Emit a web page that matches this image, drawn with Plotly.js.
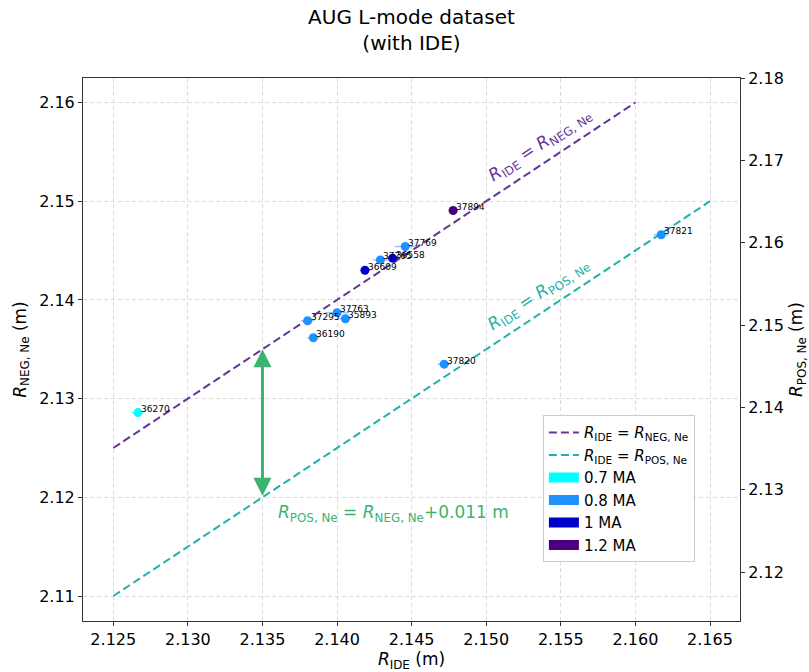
<!DOCTYPE html>
<html>
<head>
<meta charset="utf-8">
<script src="https://cdn.plot.ly/plotly-3.0.1.min.js"></script>
<style>html,body{margin:0;padding:0;background:#fff;}#chart{width:809px;height:672px;}</style>
</head>
<body>
<div id="chart"></div>
<script>
// ---- data ----
const shots   = ["36270","37295","36190","37763","35893","36609","37765","36558","37769","37894","37820","37821"];
const rIde    = [2.12665,2.13803,2.13841,2.14000,2.14056,2.14187,2.14290,2.14372,2.14457,2.14778,2.14718,2.16173];
const rNeg    = [2.12858,2.13789,2.13616,2.13870,2.13809,2.14300,2.14405,2.14423,2.14541,2.14906,2.13349,2.14660];
const rIdeErr = [0.00045,0.00045,0.00040,0.00080,0.00040,0.00030,0.00050,0.00040,0.00070,0.00030,0.00045,0.00050];
const current = ["0.7 MA","0.8 MA","0.8 MA","0.8 MA","0.8 MA","1 MA","0.8 MA","1 MA","0.8 MA","1.2 MA","0.8 MA","0.8 MA"];

const currentLevels = ["0.7 MA","0.8 MA","1 MA","1.2 MA"];
const currentColors = ["#00FFFF","#1E90FF","#0000CD","#4B0082"];
const currentErrColors = ["rgba(0,255,255,0.5)","rgba(30,144,255,0.5)","rgba(0,0,205,0.5)","rgba(75,0,130,0.5)"];

const negLineX = [2.125, 2.160];
const negLineY = [2.125, 2.160];
const posLineX = [2.125, 2.165];
const posLineY = [2.110, 2.150];

const gapX = 2.135;
const gapTop = 2.135;
const gapBottom = 2.120;

const FONT = "DejaVu Sans";
const negLabel = "<i>R</i><sub>IDE</sub> = <i>R</i><sub>NEG, Ne</sub>";
const posLabel = "<i>R</i><sub>IDE</sub> = <i>R</i><sub>POS, Ne</sub>";

const traces = [];
traces.push({x: negLineX, y: negLineY, mode: "lines", name: negLabel,
  line: {color: "#663399", width: 2, dash: "8px,4px"}, hoverinfo: "skip"});
traces.push({x: posLineX, y: posLineY, mode: "lines", name: posLabel,
  line: {color: "#20B2AA", width: 2, dash: "8px,4px"}, hoverinfo: "skip"});

currentLevels.forEach((lvl, k) => {
  const idx = current.map((c, i) => c === lvl ? i : -1).filter(i => i >= 0);
  traces.push({
    x: idx.map(i => rIde[i]), y: idx.map(i => rNeg[i]),
    mode: "markers", showlegend: false,
    marker: {color: currentColors[k], size: 9},
    error_x: {type: "data", array: idx.map(i => rIdeErr[i]), color: currentErrColors[k], thickness: 1.5, width: 0},
    text: idx.map(i => shots[i]), hoverinfo: "text"
  });
});
// legend patches for currents
currentLevels.forEach((lvl, k) => {
  traces.push({x: [null], y: [null], mode: "lines", name: lvl,
    line: {color: currentColors[k], width: 12}, hoverinfo: "skip"});
});
// right axis carrier
traces.push({x: [], y: [], yaxis: "y2", showlegend: false, hoverinfo: "skip"});

const annotations = shots.map((s, i) => ({
  x: rIde[i], y: rNeg[i], xref: "x", yref: "y", text: s, showarrow: false,
  xanchor: "left", yanchor: "middle", xshift: 1, yshift: 3.5,
  font: {family: FONT, size: 9, color: "#000"}
}));

annotations.push({x: 2.15359, y: 2.15566, xref: "x", yref: "y", text: negLabel,
  showarrow: false, textangle: -33.5, font: {family: FONT, size: 17, color: "#663399"}});
annotations.push({x: 2.15353, y: 2.14057, xref: "x", yref: "y", text: posLabel,
  showarrow: false, textangle: -33.5, font: {family: FONT, size: 17, color: "#20B2AA"}});
annotations.push({x: 2.14381, y: 2.11841, xref: "x", yref: "y",
  text: "<i>R</i><sub>POS, Ne</sub> = <i>R</i><sub>NEG, Ne</sub>+0.011 m",
  showarrow: false, font: {family: FONT, size: 17, color: "#3CB371"}});
annotations.push({x: gapX, y: gapTop, ax: gapX, ay: gapBottom, xref: "x", yref: "y", axref: "x", ayref: "y",
  text: "", showarrow: true, arrowside: "end+start", arrowhead: 2, startarrowhead: 2,
  arrowsize: 1.2, startarrowsize: 1.2, arrowwidth: 3, arrowcolor: "#3CB371"});

const layout = {
  width: 809, height: 672,
  margin: {l: 83, r: 69, t: 78, b: 51, pad: 0},
  paper_bgcolor: "#fff", plot_bgcolor: "#fff",
  font: {family: FONT, size: 16, color: "#000"},
  title: {text: "AUG L-mode dataset<br>(with IDE)", x: 0.5, xref: "paper", y: 0.965, yref: "container", yanchor: "top",
    font: {family: FONT, size: 20, color: "#000"}},
  showlegend: true,
  legend: {x: 0.70, y: 0.379, xanchor: "left", yanchor: "top", bgcolor: "rgba(255,255,255,0.9)",
    bordercolor: "#ccc", borderwidth: 1, font: {family: FONT, size: 15, color: "#000"}, tracegroupgap: 0},
  xaxis: {range: [2.12297, 2.16701], dtick: 0.005, tick0: 2.125, tickformat: ".3f",
    showgrid: true, gridcolor: "#dcdcdc", griddash: "4px,3px", gridwidth: 1,
    showline: true, linecolor: "#333", linewidth: 1, mirror: true,
    ticks: "outside", ticklen: 4, tickcolor: "#333", zeroline: false,
    tickfont: {family: FONT, size: 16},
    title: {text: "<i>R</i><sub>IDE</sub> (m)", font: {family: FONT, size: 17}, standoff: 4}, automargin: false},
  yaxis: {range: [2.10747, 2.16248], dtick: 0.01, tick0: 2.11, tickformat: ".2f",
    showgrid: true, gridcolor: "#dcdcdc", griddash: "4px,3px", gridwidth: 1,
    showline: true, linecolor: "#333", linewidth: 1, mirror: true,
    ticks: "outside", ticklen: 4, tickcolor: "#333", zeroline: false,
    tickfont: {family: FONT, size: 16},
    title: {text: "<i>R</i><sub>NEG, Ne</sub> (m)", font: {family: FONT, size: 17}, standoff: 8}, automargin: false},
  yaxis2: {range: [2.11405, 2.18], dtick: 0.01, tick0: 2.12, tickformat: ".2f", overlaying: "y", side: "right",
    showgrid: false, showline: true, linecolor: "#333", linewidth: 1,
    ticks: "outside", ticklen: 4, tickcolor: "#333", zeroline: false,
    tickfont: {family: FONT, size: 16},
    title: {text: "<i>R</i><sub>POS, Ne</sub> (m)", font: {family: FONT, size: 17}, standoff: 8}, automargin: false},
  annotations: annotations
};

Plotly.newPlot("chart", traces, layout, {staticPlot: true, displayModeBar: false});
</script>
</body>
</html>
